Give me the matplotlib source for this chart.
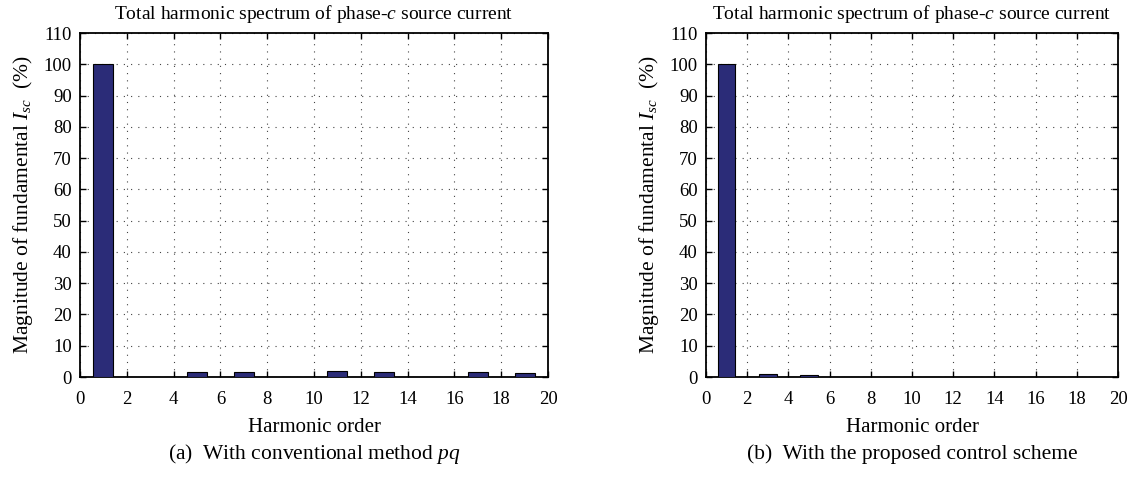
import matplotlib
matplotlib.use("Agg")
import matplotlib.pyplot as plt

plt.rcParams['font.family'] = ['Liberation Serif', 'DejaVu Serif']
plt.rcParams['mathtext.fontset'] = 'custom'
plt.rcParams['mathtext.rm'] = 'Liberation Serif'
plt.rcParams['mathtext.it'] = 'Liberation Serif:italic'

harmonic_order = list(range(1, 21))

# Harmonic magnitudes (% of fundamental), conventional pq method
mag_pq = [100, 0.1, 0.1, 0.1, 1.5, 0.1, 1.5, 0.1, 0.1, 0.1,
          1.8, 0.1, 1.5, 0.1, 0.1, 0.1, 1.5, 0.1, 1.2, 0.1]

# Harmonic magnitudes (% of fundamental), proposed control scheme
mag_proposed = [100, 0.1, 1.0, 0.1, 0.6, 0.1, 0.1, 0.1, 0.1, 0.1,
                0.1, 0.1, 0.1, 0.1, 0.1, 0.1, 0.1, 0.1, 0.1, 0.1]

title_text = "Total harmonic spectrum of phase-$\\mathit{c}$ source current"
ylabel_text = "Magnitude of fundamental $\\mathit{I_{sc}}$  (%)"
xlabel_text = "Harmonic order"
captions = ["(a)  With conventional method $\\mathit{pq}$",
            "(b)  With the proposed control scheme"]

bar_color = "#2b2c78"

fig = plt.figure(figsize=(11.4, 4.8), dpi=100)
ax_a = fig.add_axes([80 / 1140, 103 / 480, 468 / 1140, 344 / 480])
ax_b = fig.add_axes([706 / 1140, 103 / 480, 412 / 1140, 344 / 480])

for ax, mags, cap in [(ax_a, mag_pq, captions[0]), (ax_b, mag_proposed, captions[1])]:
    ax.bar(harmonic_order, mags, width=0.85, color=bar_color,
           edgecolor="black", linewidth=0.8, zorder=3)
    ax.set_xlim(0, 20)
    ax.set_ylim(0, 110)
    ax.set_xticks(range(0, 21, 2))
    ax.set_yticks(range(0, 111, 10))
    ax.grid(True, linestyle=(0, (1, 5.5)), color="#444444", linewidth=0.8, zorder=0)
    ax.tick_params(direction="in", top=True, right=True, length=4,
                   width=1, labelsize=13.5)
    ax.tick_params(axis="x", pad=10)
    ax.tick_params(axis="y", pad=6)
    for s in ax.spines.values():
        s.set_linewidth(1.3)
    ax.set_xlabel(xlabel_text, fontsize=15, labelpad=7)
    ax.set_ylabel(ylabel_text, fontsize=15.5, labelpad=6)
    ax.set_title(title_text, fontsize=14, pad=10)
    x_mid = ax.get_position().x0 + ax.get_position().width / 2
    fig.text(x_mid, 1 - 454 / 480, cap, ha="center", va="center", fontsize=15.5)

fig.savefig("out.png", dpi=100)
